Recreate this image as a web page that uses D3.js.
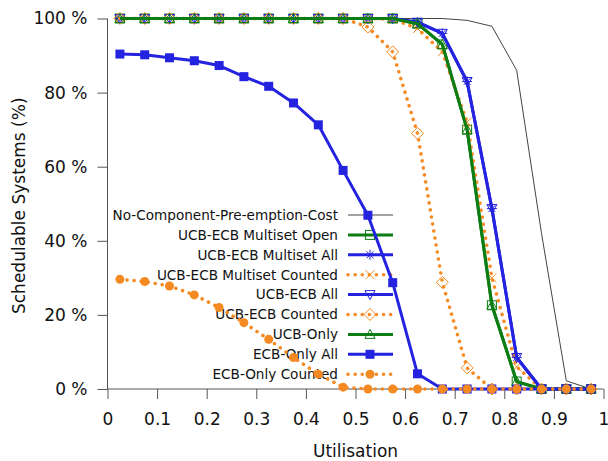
<!DOCTYPE html>
<meta charset="utf-8">
<style>

html,
body {
  margin: 0;
  overflow: hidden;
  background: #fff;
}

text {
  font-family: "DejaVu Sans", sans-serif;
  fill: #111;
}

.axis line {
  stroke: #555;
}

</style>
<body>
<script src="https://d3js.org/d3.v7.min.js"></script>
<script>

var width = 608,
 height = 461;

// utilisation (x) and schedulable systems in % for each series
var utilisation = [0.025, 0.075, 0.125, 0.175, 0.225, 0.275, 0.325, 0.375, 0.425, 0.475,
                   0.525, 0.575, 0.625, 0.675, 0.725, 0.775, 0.825, 0.875, 0.925, 0.975];

var noCost          = [100, 100, 100, 100, 100, 100, 100, 100, 100, 100, 100, 100, 100, 100, 99.5, 97.9, 86, 42, 2.2, 0];
var multisetOpen    = [100, 100, 100, 100, 100, 100, 100, 100, 100, 100, 100, 100, 98.6, 93, 70, 22.6, 2, 0, 0, 0];
var multisetAll     = [100, 100, 100, 100, 100, 100, 100, 100, 100, 100, 100, 100, 99, 96, 83, 48.7, 8.5, 0, 0, 0];
var multisetCounted = [100, 100, 100, 100, 100, 100, 100, 100, 100, 100, 100, 99.8, 97.3, 91, 72, 30, 6, 0, 0, 0];
var ucbEcbAll       = [100, 100, 100, 100, 100, 100, 100, 100, 100, 100, 100, 100, 99, 96, 83, 48.7, 8.5, 0, 0, 0];
var ucbEcbCounted   = [100, 100, 100, 100, 100, 100, 100, 100, 100, 100, 97.7, 91, 69, 28.8, 5.7, 0, 0, 0, 0, 0];
var ucbOnly         = [100, 100, 100, 100, 100, 100, 100, 100, 100, 100, 100, 100, 98.6, 93, 70, 22.6, 2, 0, 0, 0];
var ecbOnlyAll      = [90.4, 90.2, 89.4, 88.6, 87.3, 84.3, 81.7, 77.2, 71.3, 59, 46.9, 28.7, 4.1, 0, 0, 0, 0, 0, 0, 0];
var ecbOnlyCounted  = [29.6, 29.0, 27.8, 25.4, 22.0, 17.9, 13.4, 8.5, 4.0, 0.5, 0, 0, 0, 0, 0, 0, 0, 0, 0, 0];

var xTicks = [0, 0.1, 0.2, 0.3, 0.4, 0.5, 0.6, 0.7, 0.8, 0.9, 1];
var yTicks = [0, 20, 40, 60, 80, 100];

var blue = "#2323e0",
 green = "#0b7d12",
 orange = "#f58a22";

var series = [
  {name: "No-Component-Pre-emption-Cost", values: noCost, color: "#444", width: 1, dotted: false, marker: null},
  {name: "UCB-ECB Multiset Open", values: multisetOpen, color: green, width: 3, dotted: false, marker: "square"},
  {name: "UCB-ECB Multiset All", values: multisetAll, color: blue, width: 3, dotted: false, marker: "star"},
  {name: "UCB-ECB Multiset Counted", values: multisetCounted, color: orange, width: 3.5, dotted: true, marker: "cross"},
  {name: "UCB-ECB All", values: ucbEcbAll, color: blue, width: 3, dotted: false, marker: "tridown"},
  {name: "UCB-ECB Counted", values: ucbEcbCounted, color: orange, width: 3.5, dotted: true, marker: "diamond"},
  {name: "UCB-Only", values: ucbOnly, color: green, width: 3, dotted: false, marker: "triup"},
  {name: "ECB-Only All", values: ecbOnlyAll, color: blue, width: 3, dotted: false, marker: "fsquare"},
  {name: "ECB-Only Counted", values: ecbOnlyCounted, color: orange, width: 3.5, dotted: true, marker: "fcircle"}
];

var x = d3.scaleLinear().domain([0, 1]).range([107.5, 603.5]);
var y = d3.scaleLinear().domain([0, 100]).range([389, 18.5]);

var svg = d3.select("body")
  .append("svg")
  .attr("width", width)
  .attr("height", height);

// axes (gnuplot style: left + bottom only, outward ticks)
var yAxis = svg.append("g")
  .attr("class", "axis")
  .attr("transform", "translate(" + x(0) + ",0)")
  .call(d3.axisLeft(y).tickValues(yTicks).tickSize(10).tickPadding(10)
    .tickFormat(function(d) { return d + " %"; }));

var xAxis = svg.append("g")
  .attr("class", "axis")
  .attr("transform", "translate(0," + y(0) + ")")
  .call(d3.axisBottom(x).tickValues(xTicks).tickSize(10).tickPadding(14)
    .tickFormat(function(d) { return d; }));

svg.selectAll(".axis path").attr("stroke", "#555");
svg.selectAll(".axis text")
  .attr("font-size", 17)
  .attr("font-family", "DejaVu Sans, sans-serif")
  .attr("fill", "#111");
yAxis.select(".domain").attr("d", "M0," + y(100) + "V" + y(0));
xAxis.select(".domain").attr("d", "M" + x(0) + ",0H" + x(1));

svg.append("text")
  .attr("transform", "translate(25," + (y(50) + 2) + ") rotate(-90)")
  .attr("text-anchor", "middle")
  .attr("font-size", 17)
  .text("Schedulable Systems (%)");

svg.append("text")
  .attr("x", (x(0) + x(1)) / 2)
  .attr("y", 457)
  .attr("text-anchor", "middle")
  .attr("font-size", 17)
  .text("Utilisation");

function drawMarker(g, type, color) {
  var s = 4.5;
  if (type == "square") {
    g.append("rect").attr("x", -s).attr("y", -s).attr("width", 2 * s).attr("height", 2 * s)
      .attr("fill", "none").attr("stroke", color).attr("stroke-width", 1);
  } else if (type == "fsquare") {
    g.append("rect").attr("x", -s).attr("y", -s).attr("width", 2 * s).attr("height", 2 * s)
      .attr("fill", color);
  } else if (type == "fcircle") {
    g.append("circle").attr("r", s).attr("fill", color);
  } else if (type == "star") {
    g.append("path")
      .attr("d", "M-5,0H5M0,-5V5M-3.5,-3.5L3.5,3.5M-3.5,3.5L3.5,-3.5")
      .attr("stroke", color).attr("stroke-width", 1);
  } else if (type == "cross") {
    g.append("path")
      .attr("d", "M-4.5,-4.5L4.5,4.5M-4.5,4.5L4.5,-4.5")
      .attr("stroke", color).attr("stroke-width", 1);
  } else if (type == "diamond") {
    g.append("path").attr("d", "M0,-6L6,0L0,6L-6,0Z")
      .attr("fill", "none").attr("stroke", color).attr("stroke-width", 1);
  } else if (type == "triup") {
    g.append("path").attr("d", "M0,-5L5,4L-5,4Z")
      .attr("fill", "none").attr("stroke", color).attr("stroke-width", 1);
  } else if (type == "tridown") {
    g.append("path").attr("d", "M0,5L5,-4L-5,-4Z")
      .attr("fill", "none").attr("stroke", color).attr("stroke-width", 1);
  }
}

// legend
var legend = svg.append("g");
series.forEach(function(s, i) {
  var ly = 215 + i * 19.9;
  legend.append("text")
    .attr("x", 338)
    .attr("y", ly)
    .attr("dy", "0.36em")
    .attr("text-anchor", "end")
    .attr("font-size", 13.6)
    .text(s.name);
  legend.append("line")
    .attr("x1", 348).attr("x2", 393)
    .attr("y1", ly).attr("y2", ly)
    .attr("stroke", s.color)
    .attr("stroke-width", s.width)
    .attr("stroke-linecap", s.dotted ? "round" : "butt")
    .attr("stroke-dasharray", s.dotted ? "0.1,7" : null);
  if (s.marker) {
    drawMarker(legend.append("g").attr("transform", "translate(370," + ly + ")"), s.marker, s.color);
  }
});

var line = d3.line()
  .x(function(d, i) { return x(utilisation[i]); })
  .y(function(d) { return y(d); });

series.forEach(function(s) {
  svg.append("path")
    .datum(s.values)
    .attr("d", line)
    .attr("fill", "none")
    .attr("stroke", s.color)
    .attr("stroke-width", s.width)
    .attr("stroke-linejoin", "round")
    .attr("stroke-linecap", s.dotted ? "round" : "butt")
    .attr("stroke-dasharray", s.dotted ? "0.1,7" : null);
  if (s.marker) {
    svg.append("g").selectAll("g")
      .data(s.values)
      .enter().append("g")
      .attr("transform", function(d, i) {
        return "translate(" + x(utilisation[i]) + "," + y(d) + ")";
      })
      .each(function() { drawMarker(d3.select(this), s.marker, s.color); });
  }
});

</script>
